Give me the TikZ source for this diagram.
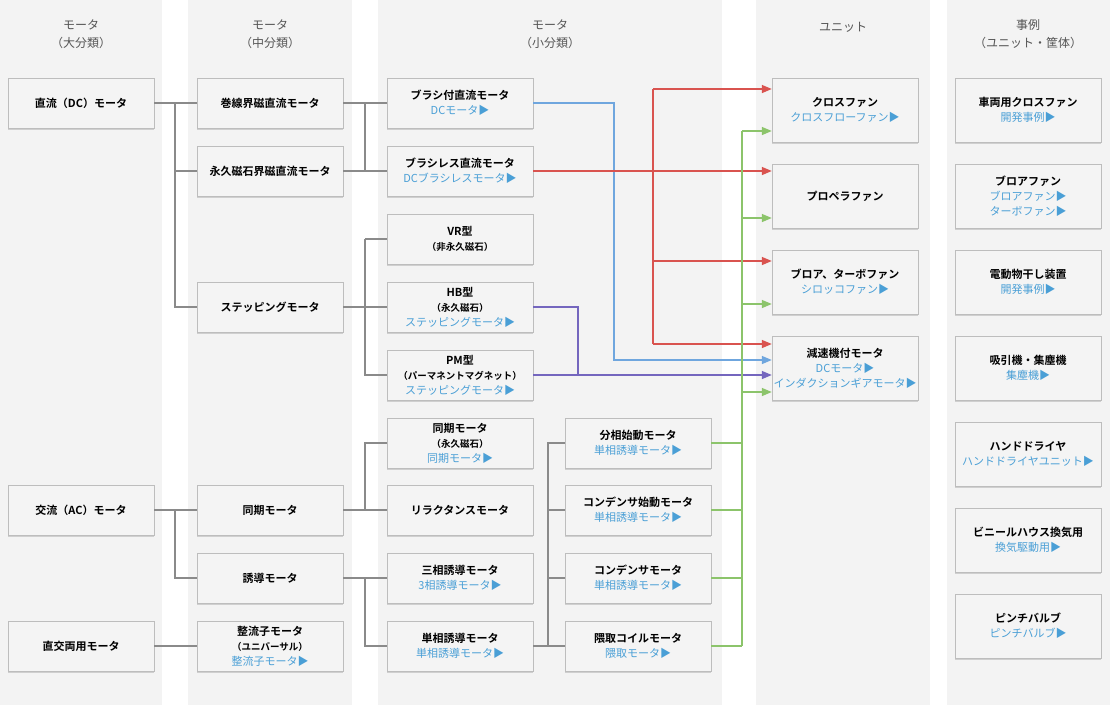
\documentclass[tikz,border=0pt]{standalone}
\usepackage{fontspec}
\setmainfont{Noto Sans CJK JP}
\newfontfamily\jb{Noto Sans CJK JP}[BoldFont={* Bold}]
\usetikzlibrary{arrows.meta,shadows}
\definecolor{band}{HTML}{F3F3F3}
\definecolor{bfill}{HTML}{F4F4F4}
\definecolor{bdr}{HTML}{BDBDBD}
\definecolor{lb}{HTML}{4A9FD6}
\definecolor{gl}{HTML}{8A8A8A}
\definecolor{rd}{HTML}{D9534F}
\definecolor{bl}{HTML}{6FA6DE}
\definecolor{pu}{HTML}{7466BE}
\definecolor{gr}{HTML}{8CC46B}
\definecolor{hd}{HTML}{555555}
\newcommand{\lk}[1]{{\color{lb}\mdseries #1}}
\newcommand{\sm}[1]{{\fontsize{9.5}{13}\selectfont #1}}
\begin{document}
\begin{tikzpicture}[x=1pt,y=-1pt,
 box/.style={draw=bdr,fill=bfill,minimum width=146pt,minimum height=50pt,inner sep=0pt,align=center,
   font=\jb\fontsize{11}{15}\selectfont\bfseries,drop shadow={shadow xshift=0.3pt,shadow yshift=-1.5pt,fill=gray!45,opacity=0.8}},
 tall/.style={minimum height=64pt},
 hdr/.style={font=\fontsize{12}{18}\selectfont,text=hd,align=center},
 g/.style={draw=gl,line width=1.3pt},
 arr/.style={line width=1.5pt},
 rl/.style={draw=rd,line width=1.5pt},
 ra/.style={arr,draw=rd,-{Triangle[length=10pt,width=8pt,fill=rd]}},
 bla/.style={arr,draw=bl,-{Triangle[length=10pt,width=8pt,fill=bl]}},
 pa/.style={arr,draw=pu,-{Triangle[length=10pt,width=8pt,fill=pu]}},
 gline/.style={draw=gr,line width=1.5pt},
 ga/.style={arr,draw=gr,-{Triangle[length=10pt,width=8pt,fill=gr]}}]
\useasboundingbox (0,0) rectangle (1110,705);
\fill[white] (0,0) rectangle (1110,705);
\fill[band] (0,0) rectangle (162,705);
\fill[band] (188,0) rectangle (352,705);
\fill[band] (378,0) rectangle (722,705);
\fill[band] (756,0) rectangle (930,705);
\fill[band] (947,0) rectangle (1110,705);
\node[hdr] (h1) at (81,34) {モータ\\（大分類）};
\node[hdr] (h2) at (270,34) {モータ\\（中分類）};
\node[hdr] (h3) at (550,34) {モータ\\（小分類）};
\node[hdr] (h4) at (843,27) {ユニット};
\node[hdr] (h5) at (1028,34) {事例\\（ユニット・筐体）};
% col1
\node[box] (dc) at (81,103) {直流（DC）モータ};
\node[box] (ac) at (81,510) {交流（AC）モータ};
\node[box] (dca) at (81,646) {直交両用モータ};
% col2
\node[box] (mk) at (270,103) {巻線界磁直流モータ};
\node[box] (ep) at (270,171) {永久磁石界磁直流モータ};
\node[box] (st) at (270,307) {ステッピングモータ};
\node[box] (sy) at (270,510) {同期モータ};
\node[box] (iv) at (270,578) {誘導モータ};
\node[box] (cm) at (270,646) {整流子モータ\\\sm{（ユニバーサル）}\\\lk{整流子モータ▶}};
% col3
\node[box] (br) at (460,103) {ブラシ付直流モータ\\\lk{DCモータ▶}};
\node[box] (bs) at (460,171) {ブラシレス直流モータ\\\lk{DCブラシレスモータ▶}};
\node[box] (vr) at (460,239) {VR型\\\sm{（非永久磁石）}};
\node[box] (hb) at (460,307) {HB型\\\sm{（永久磁石）}\\\lk{ステッピングモータ▶}};
\node[box] (pm) at (460,375) {PM型\\\sm{（パーマネントマグネット）}\\\lk{ステッピングモータ▶}};
\node[box] (ss) at (460,443) {同期モータ\\\sm{（永久磁石）}\\\lk{同期モータ▶}};
\node[box] (rl) at (460,510) {リラクタンスモータ};
\node[box] (t3) at (460,578) {三相誘導モータ\\\lk{3相誘導モータ▶}};
\node[box] (t1) at (460,646) {単相誘導モータ\\\lk{単相誘導モータ▶}};
\node[box] (bu) at (638,443) {分相始動モータ\\\lk{単相誘導モータ▶}};
\node[box] (cs) at (638,510) {コンデンサ始動モータ\\\lk{単相誘導モータ▶}};
\node[box] (cd) at (638,578) {コンデンサモータ\\\lk{単相誘導モータ▶}};
\node[box] (kc) at (638,646) {隈取コイルモータ\\\lk{隈取モータ▶}};
% col4
\node[box,tall] (cf) at (845,110) {クロスファン\\\lk{クロスフローファン▶}};
\node[box,tall] (pf) at (845,196) {プロペラファン};
\node[box,tall] (bf) at (845,282) {ブロア、ターボファン\\\lk{シロッコファン▶}};
\node[box,tall] (gm) at (845,368) {減速機付モータ\\\lk{DCモータ▶}\\\lk{インダクションギアモータ▶}};
% col5
\node[box,tall] (e1) at (1028,110) {車両用クロスファン\\\lk{開発事例▶}};
\node[box,tall] (e2) at (1028,196) {ブロアファン\\\lk{ブロアファン▶}\\\lk{ターボファン▶}};
\node[box,tall] (e3) at (1028,282) {電動物干し装置\\\lk{開発事例▶}};
\node[box,tall] (e4) at (1028,368) {吸引機・集塵機\\\lk{集塵機▶}};
\node[box,tall] (e5) at (1028,454) {ハンドドライヤ\\\lk{ハンドドライヤユニット▶}};
\node[box,tall] (e6) at (1028,540) {ビニールハウス換気用\\\lk{換気駆動用▶}};
\node[box,tall] (e7) at (1028,626) {ピンチバルブ\\\lk{ピンチバルブ▶}};
% gray trees
\coordinate (x1) at (175,0);
\coordinate (x2) at (365,0);
\coordinate (x3) at (548,0);
\draw[g] (dc.east) -- (mk.west);
\draw[g] (x1|-dc.east) |- (ep.west);
\draw[g] (x1|-dc.east) |- (st.west);
\draw[g] (mk.east) -- (br.west);
\draw[g] (ep.east) -- (bs.west);
\draw[g] (x2|-mk.east) -- (x2|-ep.east);
\draw[g] (st.east) -- (hb.west);
\draw[g] (x2|-vr.west) -- (vr.west);
\draw[g] (x2|-vr.west) |- (pm.west);
\draw[g] (ac.east) -- (sy.west);
\draw[g] (x1|-ac.east) |- (iv.west);
\draw[g] (sy.east) -- (rl.west);
\draw[g] (x2|-rl.west) |- (ss.west);
\draw[g] (iv.east) -- (t3.west);
\draw[g] (x2|-t3.west) |- (t1.west);
\draw[g] (t1.east) -- (kc.west);
\draw[g] (x3|-kc.west) |- (bu.west);
\draw[g] (x3|-cs.west) -- (cs.west);
\draw[g] (x3|-cd.west) -- (cd.west);
\draw[g] (dca.east) -- (cm.west);
% blue
\draw[bla] (br.east) -- (614,103) -- (614,360) -- (gm.west |- 0,360);
% purple
\draw[line width=1.5pt,draw=pu] (hb.east) -- (578,307) -- (578,375);
\draw[pa] (pm.east) -- (gm.west |- pm.east);
% red
\draw[rl] (653,89) -- (653,344);
\draw[ra] (bs.east) -- (bs.east -| pf.west);
\draw[ra] (653,89) -- (cf.west |- 0,89);
\draw[ra] (653,261) -- (bf.west |- 0,261);
\draw[ra] (653,344) -- (gm.west |- 0,344);
% green
\draw[gline] (742,131) -- (742,646);
\draw[gline] (bu.east) -- (742,443);
\draw[gline] (cs.east) -- (742,510);
\draw[gline] (cd.east) -- (742,578);
\draw[gline] (kc.east) -- (742,646);
\draw[ga] (742,131) -- (cf.west |- 0,131);
\draw[ga] (742,218) -- (pf.west |- 0,218);
\draw[ga] (742,304) -- (bf.west |- 0,304);
\draw[ga] (742,392) -- (gm.west |- 0,392);
\end{tikzpicture}
\end{document}
